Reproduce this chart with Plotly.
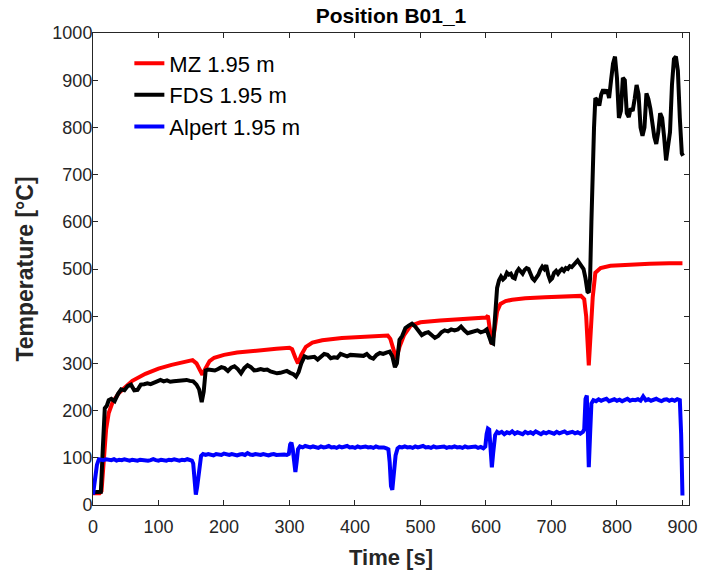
import plotly.graph_objects as go

# ---------------- data ----------------
x_ticks = [0, 100, 200, 300, 400, 500, 600, 700, 800, 900]
y_ticks = [0, 100, 200, 300, 400, 500, 600, 700, 800, 900, 1000]

mz_t = [0, 10, 13, 16, 20, 24, 30, 40, 50, 60,
        80, 100, 120, 140, 152, 158, 163, 167, 172, 178,
        185, 200, 220, 250, 280, 300, 304, 309, 313, 318,
        325, 335, 350, 380, 410, 440, 450, 454, 458, 463,
        468, 475, 485, 500, 530, 560, 590, 600, 603, 606,
        609, 613, 617, 622, 630, 640, 660, 690, 720, 745,
        750, 753, 757, 760, 763, 767, 775, 790, 820, 850,
        880, 900]
mz_v = [25, 25, 30, 95, 160, 195, 218, 238, 252, 263,
        278, 289, 297, 304, 307, 300, 285, 276, 290, 305,
        312, 318, 323, 328, 331, 333, 330, 312, 300, 318,
        335, 344, 349, 354, 357, 359, 359, 352, 330, 310,
        335, 360, 380, 387, 391, 394, 396, 397, 401, 370,
        340, 370, 410, 426, 432, 435, 438, 440, 442, 443,
        436, 400, 296, 360, 440, 492, 502, 507, 510, 511,
        512, 512]

fds_t = [0, 5, 10, 12, 15, 18, 21, 24, 28, 33,
         38, 43, 48, 53, 58, 63, 68, 73, 78, 83,
         88, 93, 98, 103, 108, 113, 118, 123, 128, 133,
         138, 143, 148, 153, 158, 162, 166, 169, 172, 176,
         181, 186, 191, 196, 201, 206, 211, 216, 221, 226,
         231, 236, 241, 246, 251, 256, 261, 266, 271, 276,
         281, 286, 291, 296, 301, 306, 310, 314, 318, 323,
         328, 333, 338, 343, 348, 353, 358, 363, 368, 373,
         378, 383, 388, 393, 398, 403, 408, 413, 418, 423,
         428, 433, 438, 443, 448, 453, 457, 461, 464, 468,
         472, 477, 482, 487, 492, 497, 502, 507, 512, 517,
         522, 527, 532, 537, 542, 547, 552, 557, 562, 567,
         572, 577, 582, 587, 592, 597, 601, 604, 608, 611,
         614, 617, 620, 623, 626, 629, 632, 635, 638, 641,
         644, 647, 650, 653, 656, 659, 662, 665, 668, 671,
         674, 677, 680, 683, 686, 689, 692, 695, 698, 701,
         704, 707, 710, 713, 716, 719, 722, 725, 728, 731,
         734, 737, 740, 743, 746, 749, 752, 755, 757, 759,
         761, 763, 765, 767, 770, 773, 776, 779, 782, 785,
         788, 791, 794, 797, 800, 803, 806, 809, 812, 815,
         818, 821, 824, 827, 830, 833, 836, 839, 842, 845,
         848, 851, 854, 857, 860, 863, 866, 869, 872, 875,
         878, 881, 884, 887, 890, 893, 896, 899, 901]
fds_v = [27, 27, 27, 28, 120, 205, 210, 222, 225, 220,
         235, 245, 243, 252, 255, 243, 244, 255, 256, 258,
         256, 260, 262, 265, 262, 264, 261, 262, 263, 262,
         265, 265, 263, 262, 255, 245, 218, 240, 285, 287,
         286, 285, 288, 292, 290, 284, 291, 294, 288, 279,
         290, 296, 292, 285, 286, 288, 286, 287, 283, 281,
         279, 280, 282, 284, 280, 277, 272, 282, 300, 315,
         312, 312, 314, 308, 315, 320, 318, 311, 313, 312,
         320, 318, 315, 318, 318, 316, 318, 316, 320, 313,
         310, 318, 322, 320, 323, 325, 315, 292, 300, 350,
         358, 375, 380, 384, 378, 368, 360, 364, 366, 360,
         354, 358, 366, 370, 368, 372, 370, 372, 378, 370,
         364, 366, 368, 370, 366, 368, 372, 362, 344, 342,
         400, 460, 476, 484, 478, 482, 492, 488, 490, 482,
         480, 494, 500, 496, 490, 498, 502, 500, 490, 480,
         476, 482, 488, 498, 505, 500, 508, 488, 476, 480,
         492, 496, 490, 496, 500, 496, 502, 500, 506, 504,
         508, 512, 518, 512, 505, 500, 480, 452, 450, 480,
         600, 720, 800, 862, 858, 846, 870, 880, 872, 880,
         862, 900, 935, 950, 905, 820, 835, 905, 900, 830,
         822, 840, 835, 860, 890, 870, 800, 782, 800, 872,
         860, 840, 800, 780, 765, 790, 830, 820, 780, 730,
         760, 790, 890, 945, 950, 920, 820, 745, 740]

alpert_t = [0, 3, 6, 9, 12, 16, 20, 24, 28, 32,
            36, 40, 44, 48, 52, 56, 60, 64, 68, 72,
            76, 80, 84, 88, 92, 96, 100, 104, 108, 112,
            116, 120, 124, 128, 132, 136, 140, 144, 148, 151,
            153, 155, 157, 159, 162, 165, 168, 172, 176, 180,
            184, 188, 192, 196, 200, 204, 208, 212, 216, 220,
            224, 228, 232, 236, 240, 244, 248, 252, 256, 260,
            264, 268, 272, 276, 280, 284, 288, 292, 296, 299,
            301, 303, 305, 307, 309, 311, 313, 316, 320, 324,
            328, 332, 336, 340, 344, 348, 352, 356, 360, 364,
            368, 372, 376, 380, 384, 388, 392, 396, 400, 404,
            408, 412, 416, 420, 424, 428, 432, 436, 440, 444,
            448, 451, 453, 455, 457, 459, 462, 465, 468, 472,
            476, 480, 484, 488, 492, 496, 500, 504, 508, 512,
            516, 520, 524, 528, 532, 536, 540, 544, 548, 552,
            556, 560, 564, 568, 572, 576, 580, 584, 588, 592,
            596, 599, 601, 603, 605, 607, 609, 611, 614, 617,
            620, 624, 628, 632, 636, 640, 644, 648, 652, 656,
            660, 664, 668, 672, 676, 680, 684, 688, 692, 696,
            700, 704, 708, 712, 716, 720, 724, 728, 732, 736,
            740, 744, 748, 750, 752, 754, 756, 757, 759, 761,
            764, 768, 772, 776, 780, 784, 788, 792, 796, 800,
            804, 808, 812, 816, 820, 824, 828, 832, 836, 840,
            844, 848, 852, 856, 860, 864, 868, 872, 876, 880,
            884, 888, 892, 896, 898, 900]
alpert_v = [22, 50, 85, 97, 96, 95, 97, 96, 95, 97,
            94, 96, 95, 97, 95, 94, 96, 95, 94, 96,
            95, 96, 94, 95, 97, 95, 94, 96, 95, 94,
            96, 95, 97, 95, 94, 96, 95, 97, 95, 94,
            88, 45, 22, 38, 78, 104, 108, 106, 108, 107,
            105, 108, 107, 106, 109, 107, 106, 108, 107, 105,
            107, 108, 106, 110, 107, 106, 108, 107, 106, 108,
            107, 105, 107, 108, 106, 107, 108, 107, 106, 108,
            128, 132, 118, 90, 70, 92, 118, 124, 122, 125,
            123, 122, 124, 123, 121, 124, 122, 123, 125, 122,
            123, 121, 124, 122, 123, 125, 122, 123, 121, 124,
            122, 123, 124, 122, 123, 121, 124, 122, 123, 122,
            120, 118, 90, 40, 32, 60, 105, 120, 123, 122,
            124, 122, 123, 121, 124, 122, 123, 125, 122, 123,
            121, 124, 122, 123, 122, 124, 121, 123, 122, 124,
            122, 123, 121, 124, 122, 123, 122, 124, 121, 123,
            120, 124, 150, 162, 160, 130, 80, 110, 148, 155,
            152, 155, 150, 154, 152, 156, 151, 154, 153, 150,
            155, 152, 154, 151, 156, 153, 150, 154, 152, 155,
            153, 151, 155, 152, 154, 156, 152, 153, 155, 152,
            154, 151, 155, 160, 225, 232, 150, 80, 150, 215,
            222, 220, 224, 221, 223, 225, 220, 222, 224, 221,
            223, 220, 222, 225, 221, 223, 222, 224, 221, 230,
            222, 224, 221, 223, 225, 222, 220, 223, 224, 221,
            223, 221, 224, 222, 150, 20]

series_names = ["MZ 1.95 m", "FDS 1.95 m", "Alpert 1.95 m"]
series_colors = ["#ff0000", "#000000", "#0000ff"]

# ---------------- figure ----------------
FONT = "Liberation Sans, Arial, Helvetica, sans-serif"
AX = "#262626"

fig = go.Figure()
for (t, v), name, col, grp in zip([(mz_t, mz_v), (fds_t, fds_v), (alpert_t, alpert_v)],
                                  series_names, series_colors, ["a", "b", "c"]):
    fig.add_trace(go.Scatter(x=t, y=v, mode="lines", name=name, legendgroup=grp,
                             line=dict(color=col, width=4)))

axis_common = dict(showline=True, linecolor=AX, linewidth=1, mirror="ticks",
                   ticks="inside", ticklen=5, tickcolor=AX, tickwidth=1,
                   showgrid=False, zeroline=False,
                   tickfont=dict(family=FONT, size=18, color=AX))

fig.update_layout(
    width=705, height=574,
    margin=dict(l=93, r=8, t=33, b=65),
    paper_bgcolor="white", plot_bgcolor="white",
    font=dict(family=FONT, color=AX),
    title=dict(text="<b>Position B01_1</b>", x=0.5, xref="paper", xanchor="center",
               y=1 - 16 / 574, yref="container", yanchor="middle",
               font=dict(family=FONT, size=21, color="#000000")),
    xaxis=dict(range=[0, 910], tickvals=x_ticks, ticklabelstandoff=5,
               title=dict(text="<b>Time [s]</b>", font=dict(family=FONT, size=22, color=AX), standoff=14),
               **axis_common),
    yaxis=dict(range=[0, 1000], tickvals=y_ticks, ticklabelstandoff=-4,
               title=dict(text="<b>Temperature [°C]</b>", font=dict(family=FONT, size=23, color=AX), standoff=12),
               **axis_common),
    legend=dict(x=0.061, y=0.98, xanchor="left", yanchor="top",
                bgcolor="rgba(0,0,0,0)", borderwidth=0, tracegroupgap=0,
                font=dict(family=FONT, size=22, color="#000000")),
    showlegend=True,
)

fig.write_html("out.html", config={"displayModeBar": False},
               post_script="document.body.style.margin='0';")
